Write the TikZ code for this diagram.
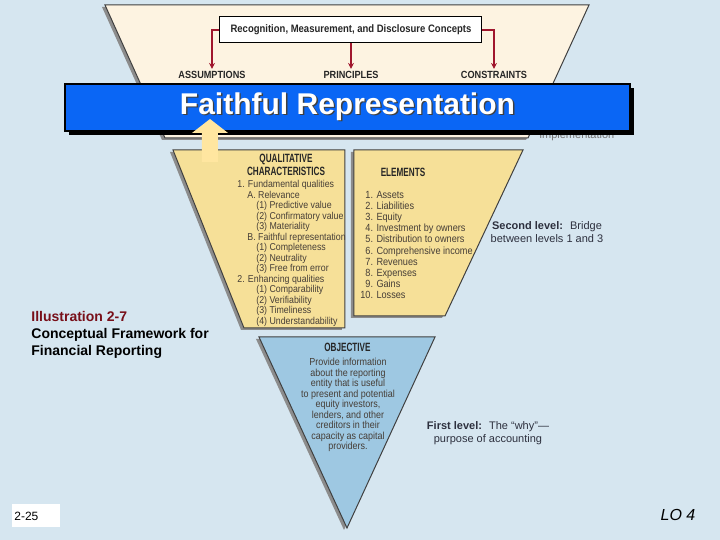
\documentclass[tikz,border=0pt]{standalone}
\usepackage{fontspec}
\setmainfont{Liberation Sans}
\newfontfamily\narrowfont[FakeStretch=0.88]{Liberation Sans}
\newfontfamily\headfont[FakeStretch=0.68]{Liberation Sans}
\usetikzlibrary{positioning, arrows.meta, shadows}
\definecolor{slide blue}{RGB}{214,230,240}
\definecolor{cream}{RGB}{253,243,225}
\definecolor{tier yellow}{RGB}{246,224,152}
\definecolor{tier blue}{RGB}{158,200,226}
\definecolor{link red}{RGB}{160,22,45}
\definecolor{banner blue}{RGB}{10,102,245}
\definecolor{pointer yellow}{RGB}{255,230,160}
\definecolor{illus red}{RGB}{120,15,25}
\definecolor{list gray}{RGB}{70,62,55}
\definecolor{level gray}{RGB}{45,48,62}
\tikzset{tier/.style={draw=black!75, line width=0.5pt}}
\tikzset{tier shadow/.style={fill=black!45}}
\tikzset{concept/.style={font=\narrowfont\bfseries\fontsize{5.2}{6}\selectfont, text=black!85, inner sep=1pt}}
\tikzset{head/.style={font=\headfont\bfseries\fontsize{6}{5.1}\selectfont, text=black!85, align=center, inner sep=0pt}}
\tikzset{list/.style={font=\narrowfont\fontsize{5}{5.25}\selectfont, text=list gray, align=left, inner sep=0pt, anchor=north west}}
\tikzset{level/.style={font=\fontsize{5.5}{6.5}\selectfont, text=level gray, align=center}}
\tikzset{red arrow/.style={draw=link red, line width=0.75pt, -{Stealth[length=3pt,width=3pt]}}}
\tikzset{banner/.style={fill=banner blue, draw=black, line width=0.6pt, minimum width=282.5pt, minimum height=23.5pt, text=white, font=\bfseries\fontsize{15}{18}\selectfont, drop shadow={shadow xshift=2pt, shadow yshift=-2pt, fill=black, opacity=1}}}
\newcommand{\bannertext}[1]{\makebox[0pt][l]{\hspace{0.7pt}\raisebox{-0.7pt}{\color{black!75}#1}}#1}

\begin{document}
\begin{tikzpicture}[x=0.5pt, y=-0.5pt]
\useasboundingbox (0,0) rectangle (720,540);
\fill[slide blue] (0,0) rectangle (720,540);

\fill[tier shadow] (102,7) -- (586,7) -- (526,140) -- (162,140) -- cycle;
\draw[tier, fill=cream] (105,5) -- (589,5) -- (528,138) -- (165,138) -- cycle;

\node[draw=black, fill=white, line width=0.5pt, minimum width=131pt, minimum height=13pt, font=\narrowfont\bfseries\fontsize{5.4}{6}\selectfont, text=black!85] (rmd) at (351,30) {Recognition, Measurement, and Disclosure Concepts};
\node[concept] (assump) at (212,75) {ASSUMPTIONS};
\node[concept] (princ) at (351,75) {PRINCIPLES};
\node[concept] (constr) at (494,75) {CONSTRAINTS};
\draw[red arrow] (rmd.west) -| (assump.north);
\draw[red arrow] (rmd.south) -- (princ.north);
\draw[red arrow] (rmd.east) -| (constr.north);

\node[level, text=black!55] (impl) at (577,136) {implementation};

\fill[tier shadow] (170,152) -- (342,152) -- (342,330) -- (241,330) -- cycle;
\draw[tier, fill=tier yellow] (173,150) -- (345,150) -- (345,328) -- (244,328) -- cycle;
\fill[tier shadow] (351,152) -- (520,152) -- (442,318) -- (351,318) -- cycle;
\draw[tier, fill=tier yellow] (354,150) -- (523,150) -- (445,316) -- (354,316) -- cycle;
\fill[tier shadow] (256,339) -- (432,339) -- (344,530) -- cycle;
\draw[tier, fill=tier blue] (259,337) -- (435,337) -- (347,528) -- cycle;

\node[head] (qual) at (286,165) {QUALITATIVE\\CHARACTERISTICS};
\node[list] (quallist) at (237,180) {1. Fundamental qualities\\
\hspace*{5pt}A. Relevance\\
\hspace*{9.5pt}(1) Predictive value\\
\hspace*{9.5pt}(2) Confirmatory value\\
\hspace*{9.5pt}(3) Materiality\\
\hspace*{5pt}B. Faithful representation\\
\hspace*{9.5pt}(1) Completeness\\
\hspace*{9.5pt}(2) Neutrality\\
\hspace*{9.5pt}(3) Free from error\\
2. Enhancing qualities\\
\hspace*{9.5pt}(1) Comparability\\
\hspace*{9.5pt}(2) Verifiability\\
\hspace*{9.5pt}(3) Timeliness\\
\hspace*{9.5pt}(4) Understandability};

\node[head] (elem) at (403,172) {ELEMENTS};
\node[list, font=\narrowfont\fontsize{5.2}{5.55}\selectfont] (elemlist) at (360,191) {\hphantom{1}1. Assets\\
\hphantom{1}2. Liabilities\\
\hphantom{1}3. Equity\\
\hphantom{1}4. Investment by owners\\
\hphantom{1}5. Distribution to owners\\
\hphantom{1}6. Comprehensive income\\
\hphantom{1}7. Revenues\\
\hphantom{1}8. Expenses\\
\hphantom{1}9. Gains\\
10. Losses};

\node[head] (obj) at (347.5,347) {OBJECTIVE};
\node[list, font=\narrowfont\fontsize{5.1}{5.25}\selectfont, align=center, anchor=north] (objtext) at (348,358) {Provide information\\about the reporting\\entity that is useful\\to present and potential\\equity investors,\\lenders, and other\\creditors in their\\capacity as capital\\providers.};

\node[level] (second) at (547,232) {\textbf{Second level:} \ Bridge\\between levels 1 and 3};
\node[level] (first) at (488,433) {\textbf{First level:} \ The “why”—\\purpose of accounting};

\node[font=\bfseries\fontsize{7}{8.5}\selectfont, align=left, anchor=north west, inner sep=0pt] (caption) at (31,311) {\textcolor{illus red}{Illustration 2-7}\\Conceptual Framework for\\Financial Reporting};
\node[fill=white, anchor=north west, text width=22pt, minimum height=11.5pt, inner sep=1pt, align=left, font=\fontsize{6}{7}\selectfont] (slide) at (12,504) {2-25};
\node[font=\itshape\fontsize{8}{9}\selectfont] (lo) at (678,515) {LO 4};

\node[banner] (fr) at (347.5,107.5) {\bannertext{Faithful Representation}};

\fill[pointer yellow] (210,119) -- (228,133) -- (218,133) -- (218,162) -- (202,162) -- (202,133) -- (192,133) -- cycle;
\end{tikzpicture}
\end{document}
